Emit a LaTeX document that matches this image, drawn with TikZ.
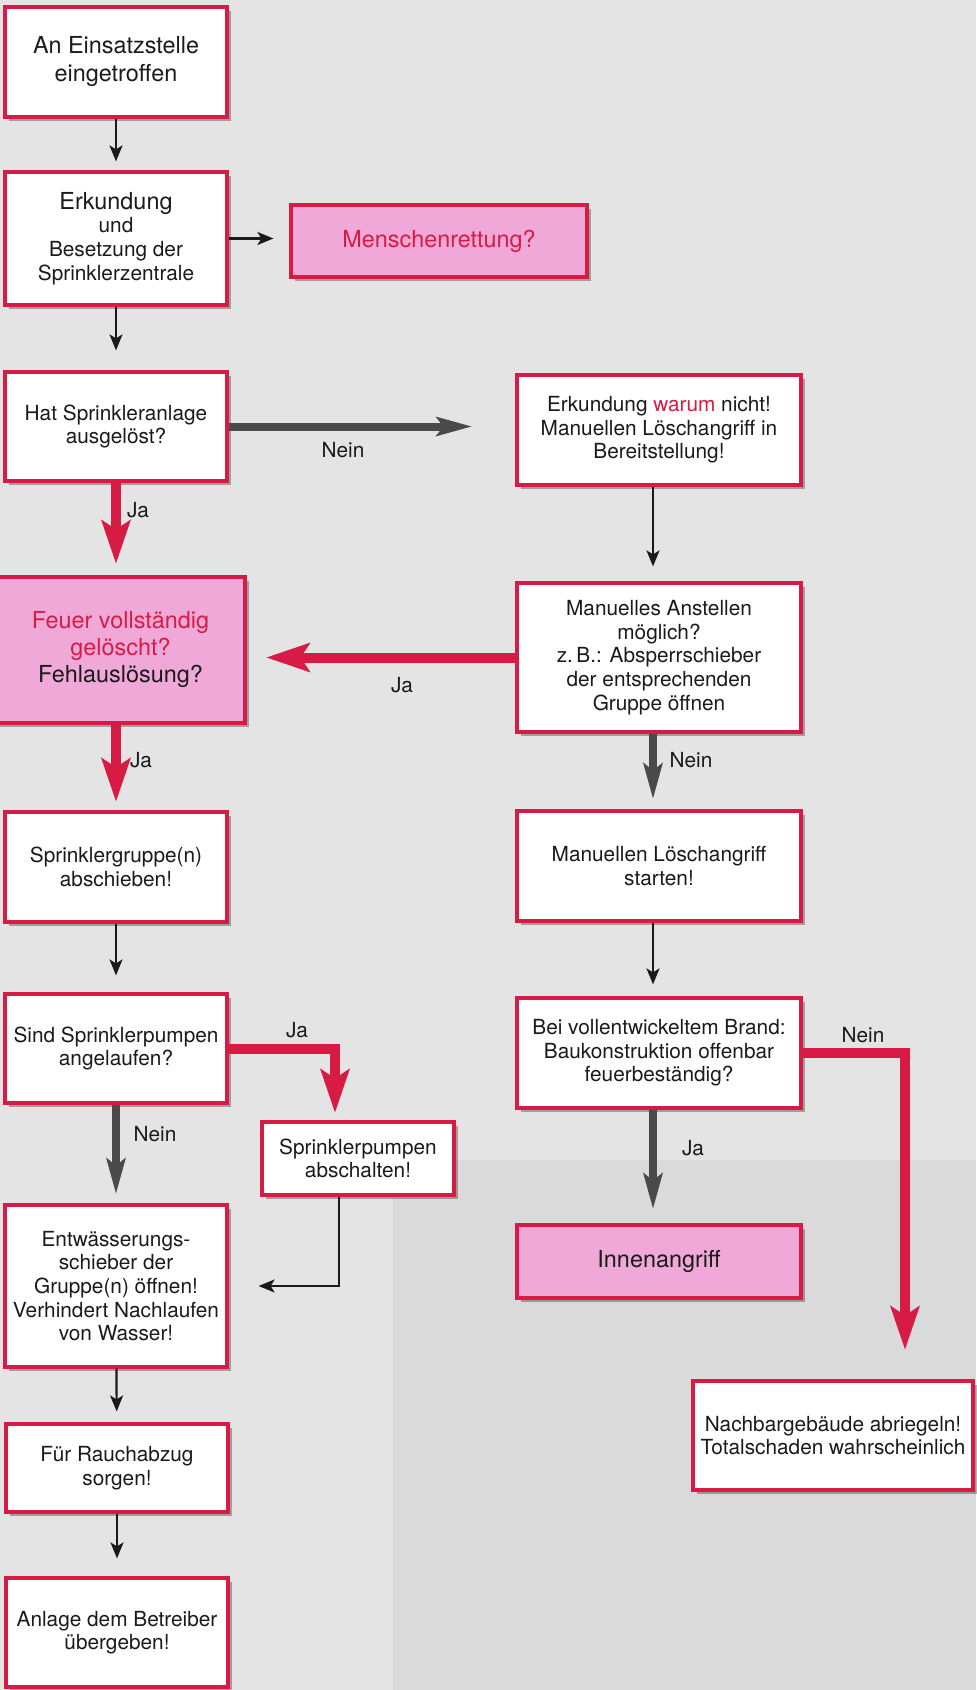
\documentclass[tikz,border=0pt]{standalone}
\usepackage{fontspec}
\setmainfont{TeX Gyre Heros}
\usetikzlibrary{arrows.meta,positioning,shadows,calc}
\definecolor{ink}{HTML}{1A1A1A}
\definecolor{crim}{HTML}{D81B45}
\definecolor{rose}{HTML}{EFA8D8}
\definecolor{slate}{HTML}{4A4A4A}
\definecolor{paper}{HTML}{E4E4E4}
\definecolor{paper2}{HTML}{DADADA}
\newcommand{\flowfont}{\fontsize{10.4}{11.8}\selectfont}
\newcommand{\pinkfont}{\fontsize{11.7}{13.5}\selectfont}
\tikzset{
  box/.style={draw=crim,line width=1.6pt,fill=white,align=center,inner sep=0pt,font=\flowfont,text=ink,minimum width=111pt,minimum height=55pt,drop shadow={shadow xshift=2pt,shadow yshift=-2pt,fill=black,opacity=.3}},
  boxp/.style={box,fill=rose,font=\pinkfont},
  lab/.style={font=\flowfont,text=ink,inner sep=0pt},
  ar/.style={-{Stealth[length=8pt,width=6.5pt,inset=2pt]},draw=ink,line width=1.1pt},
  arj/.style={-{Stealth[length=22pt,width=15pt,inset=5pt,line width=0pt]},draw=crim,line width=5pt},
  arn/.style={-{Stealth[length=18pt,width=10pt,inset=4pt,line width=0pt]},draw=slate,line width=4pt},
}
\begin{document}
\begin{tikzpicture}[x=0.5pt,y=-0.5pt]
\useasboundingbox (0,0) rectangle (976,1690);
\fill[paper] (0,0) rectangle (976,1690);
\fill[paper2] (393,1160) rectangle (976,1690);
\node[box,font=\pinkfont] (arrive) at (116,62) {An Einsatzstelle\\[0.5pt]eingetroffen};
\node[box,minimum height=66.5pt] (explore) at (116,238.5) {{\pinkfont Erkundung}\\und\\Besetzung der\\Sprinklerzentrale};
\node[boxp,minimum width=148pt,minimum height=36pt,text=crim] (rescue) at (439,241) {Menschenrettung?};
\node[box,minimum height=54.5pt] (tripped) at (116,426.5) {Hat Sprinkleranlage\\ausgelöst?};
\node[boxp,minimum width=124.5pt,minimum height=73pt] (out) at (120.5,650) {\textcolor{crim}{Feuer vollständig}\\\textcolor{crim}{gelöscht?}\\Fehlauslösung?};
\node[box] (close) at (116,867) {Sprinklergruppe(n)\\abschieben!};
\node[box,minimum height=54.5pt] (pumps) at (116,1048.5) {Sind Sprinklerpumpen\\angelaufen?};
\node[box,minimum width=96pt,minimum height=36.5pt] (pumpsoff) at (358,1158.5) {Sprinklerpumpen\\abschalten!};
\node[box,minimum height=81pt] (drain) at (116,1286) {Entwässerungs-\\schieber der\\Gruppe(n) öffnen!\\Verhindert Nachlaufen\\von Wasser!};
\node[box,minimum height=44pt] (smoke) at (117,1468) {Für Rauchabzug\\sorgen!};
\node[box,minimum height=54.5pt] (handover) at (117,1632.5) {Anlage dem Betreiber\\übergeben!};
\node[box,minimum width=142pt] (why) at (659,430) {Erkundung \textcolor{crim}{warum} nicht!\\Manuellen Löschangriff in\\Bereitstellung!};
\node[box,minimum width=142pt,minimum height=74.5pt] (manual) at (659,657.5) {Manuelles Anstellen\\möglich?\\z.\,B.: Absperrschieber\\der entsprechenden\\Gruppe öffnen};
\node[box,minimum width=142pt] (attack) at (659,866) {Manuellen Löschangriff\\starten!};
\node[box,minimum width=142pt] (fullfire) at (659,1053) {Bei vollentwickeltem Brand:\\Baukonstruktion offenbar\\feuerbeständig?};
\node[boxp,minimum width=142pt,minimum height=36.5pt] (inside) at (659,1261.5) {Innenangriff};
\node[box,minimum width=140pt,minimum height=54.5pt] (seal) at (833,1435.5) {Nachbargebäude abriegeln!\\Totalschaden wahrscheinlich};
\draw[ar,shorten >=4.5pt] (arrive) -- (explore);
\draw[ar,shorten >=8pt] (explore.east) -- (explore.east -| rescue.west);
\draw[ar,shorten >=10pt] (explore) -- (tripped);
\draw[arn,shorten >=22pt] (tripped.east) -- (tripped.east -| why.west);
\draw[arj,shorten >=6pt] (tripped.south) -- (tripped.south |- out.north);
\draw[ar,shorten >=7.5pt] ([xshift=-3pt]why.south) -- ([xshift=-3pt]manual.north);
\draw[arj,shorten >=10pt] (manual.west) -- (manual.west -| out.east);
\draw[arn,shorten >=5.5pt] ([xshift=-3pt]manual.south) -- ([xshift=-3pt]attack.north);
\draw[arj,shorten >=4.5pt] (close.north |- out.south) -- (close.north);
\draw[ar,shorten >=8.5pt] (close) -- (pumps);
\draw[arj,shorten >=4pt] (pumps.east) -| ([xshift=-11.5pt]pumpsoff.north);
\draw[arn,shorten >=5pt] (pumps) -- (drain);
\draw[ar,shorten >=15pt] ([xshift=-9.5pt]pumpsoff.south) |- (drain.east);
\draw[ar,shorten >=5.5pt] (drain) -- (smoke);
\draw[ar,shorten >=9pt] (smoke) -- (handover);
\draw[ar,shorten >=6pt] ([xshift=-3pt]attack.south) -- ([xshift=-3pt]fullfire.north);
\draw[arn,shorten >=7.5pt] ([xshift=-3pt]fullfire.south) -- ([xshift=-3pt]inside.north);
\draw[arj,shorten >=15pt] (fullfire.east) -| ([xshift=36pt]seal.north);
\node[lab] (noWhy) at (343,450) {Nein};
\node[lab] (yesOut) at (138,510) {Ja};
\node[lab] (yesBack) at (402,685) {Ja};
\node[lab] (noManual) at (691,760) {Nein};
\node[lab] (yesClose) at (141,760) {Ja};
\node[lab] (yesPumps) at (297,1030) {Ja};
\node[lab] (noPumps) at (155,1134) {Nein};
\node[lab] (yesInside) at (693,1148) {Ja};
\node[lab] (noSeal) at (863,1035) {Nein};
\end{tikzpicture}
\end{document}
